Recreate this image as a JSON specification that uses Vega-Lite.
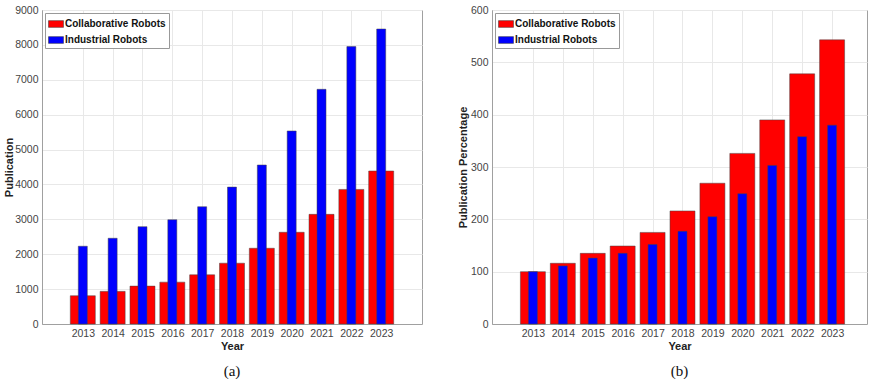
{
  "$schema": "https://vega.github.io/schema/vega-lite/v6.json",
  "padding": {"left": 2, "top": 4, "right": 0, "bottom": 0},
  "background": "white",
  "datasets": {
    "pub": [
      {"year": 2013, "series": "Collaborative Robots", "value": 810},
      {"year": 2014, "series": "Collaborative Robots", "value": 935},
      {"year": 2015, "series": "Collaborative Robots", "value": 1086},
      {"year": 2016, "series": "Collaborative Robots", "value": 1200},
      {"year": 2017, "series": "Collaborative Robots", "value": 1410},
      {"year": 2018, "series": "Collaborative Robots", "value": 1743},
      {"year": 2019, "series": "Collaborative Robots", "value": 2171},
      {"year": 2020, "series": "Collaborative Robots", "value": 2629},
      {"year": 2021, "series": "Collaborative Robots", "value": 3143},
      {"year": 2022, "series": "Collaborative Robots", "value": 3857},
      {"year": 2023, "series": "Collaborative Robots", "value": 4385},
      {"year": 2013, "series": "Industrial Robots", "value": 2229},
      {"year": 2014, "series": "Industrial Robots", "value": 2457},
      {"year": 2015, "series": "Industrial Robots", "value": 2790},
      {"year": 2016, "series": "Industrial Robots", "value": 2990},
      {"year": 2017, "series": "Industrial Robots", "value": 3362},
      {"year": 2018, "series": "Industrial Robots", "value": 3924},
      {"year": 2019, "series": "Industrial Robots", "value": 4557},
      {"year": 2020, "series": "Industrial Robots", "value": 5532},
      {"year": 2021, "series": "Industrial Robots", "value": 6727},
      {"year": 2022, "series": "Industrial Robots", "value": 7951},
      {"year": 2023, "series": "Industrial Robots", "value": 8455}
    ],
    "pct": [
      {"year": 2013, "series": "Collaborative Robots", "value": 100},
      {"year": 2014, "series": "Collaborative Robots", "value": 116},
      {"year": 2015, "series": "Collaborative Robots", "value": 135},
      {"year": 2016, "series": "Collaborative Robots", "value": 149},
      {"year": 2017, "series": "Collaborative Robots", "value": 175},
      {"year": 2018, "series": "Collaborative Robots", "value": 216},
      {"year": 2019, "series": "Collaborative Robots", "value": 269},
      {"year": 2020, "series": "Collaborative Robots", "value": 326},
      {"year": 2021, "series": "Collaborative Robots", "value": 390},
      {"year": 2022, "series": "Collaborative Robots", "value": 478},
      {"year": 2023, "series": "Collaborative Robots", "value": 543},
      {"year": 2013, "series": "Industrial Robots", "value": 100},
      {"year": 2014, "series": "Industrial Robots", "value": 111},
      {"year": 2015, "series": "Industrial Robots", "value": 126},
      {"year": 2016, "series": "Industrial Robots", "value": 135},
      {"year": 2017, "series": "Industrial Robots", "value": 152},
      {"year": 2018, "series": "Industrial Robots", "value": 177},
      {"year": 2019, "series": "Industrial Robots", "value": 205},
      {"year": 2020, "series": "Industrial Robots", "value": 249},
      {"year": 2021, "series": "Industrial Robots", "value": 303},
      {"year": 2022, "series": "Industrial Robots", "value": 358},
      {"year": 2023, "series": "Industrial Robots", "value": 380}
    ]
  },
  "config": {
    "font": "Liberation Sans",
    "view": {"stroke": "#a0a0a0", "strokeWidth": 1},
    "axis": {
      "labelFont": "Liberation Sans",
      "labelFontSize": 10.5,
      "labelColor": "#444444",
      "titleFont": "Liberation Sans",
      "titleFontSize": 11,
      "titleFontWeight": "bold",
      "titleColor": "#222222",
      "domainColor": "#a0a0a0",
      "gridColor": "#e8e8e8",
      "ticks": false,
      "labelPadding": 4,
      "format": "d"
    },
    "legend": {
      "orient": "top-left",
      "offset": 3,
      "strokeColor": "#999999",
      "fillColor": "white",
      "padding": 3,
      "labelFont": "Liberation Sans",
      "labelFontSize": 10,
      "labelFontWeight": "bold",
      "labelColor": "#111111",
      "labelOffset": 1,
      "rowPadding": 3,
      "symbolType": "M-1,-0.45H1V0.45H-1Z",
      "symbolSize": 225,
      "symbolStrokeColor": "#333333",
      "symbolStrokeWidth": 0.5,
      "title": null
    },
    "title": {"orient": "bottom", "font": "Liberation Serif", "fontSize": 15, "fontWeight": "normal", "color": "#111111", "offset": 12}
  },
  "spacing": 33,
  "resolve": {"scale": {"color": "independent"}, "legend": {"color": "independent"}},
  "hconcat": [
    {
      "width": 380,
      "height": 314,
      "title": "(a)",
      "data": {"name": "pub"},
      "encoding": {
        "x": {"field": "year", "type": "quantitative", "scale": {"domain": [2011.8, 2024.2], "nice": false, "zero": false},
              "axis": {"values": [2013, 2014, 2015, 2016, 2017, 2018, 2019, 2020, 2021, 2022, 2023], "format": "d", "title": "Year", "titlePadding": 2}},
        "y": {"field": "value", "type": "quantitative", "scale": {"domain": [0, 9000], "nice": false},
              "axis": {"values": [0, 1000, 2000, 3000, 4000, 5000, 6000, 7000, 8000, 9000], "format": "d", "title": "Publication", "titleX": -28}},
        "color": {"field": "series", "type": "nominal",
                  "scale": {"domain": ["Collaborative Robots", "Industrial Robots"], "range": ["#ff0000", "#0000ff"]}}
      },
      "layer": [
        {"transform": [{"filter": "datum.series === 'Collaborative Robots'"}],
         "mark": {"type": "bar", "size": 25, "stroke": "#444444", "strokeWidth": 0.5}},
        {"transform": [{"filter": "datum.series === 'Industrial Robots'"}],
         "mark": {"type": "bar", "size": 9, "stroke": "#444444", "strokeWidth": 0.5}}
      ]
    },
    {
      "width": 375,
      "height": 314,
      "title": "(b)",
      "data": {"name": "pct"},
      "encoding": {
        "x": {"field": "year", "type": "quantitative", "scale": {"domain": [2011.8, 2024.0], "nice": false, "zero": false},
              "axis": {"values": [2013, 2014, 2015, 2016, 2017, 2018, 2019, 2020, 2021, 2022, 2023], "format": "d", "title": "Year", "titlePadding": 2}},
        "y": {"field": "value", "type": "quantitative", "scale": {"domain": [0, 600], "nice": false},
              "axis": {"values": [0, 100, 200, 300, 400, 500, 600], "format": "d", "title": "Publication Percentage", "titleX": -24}},
        "color": {"field": "series", "type": "nominal",
                  "scale": {"domain": ["Collaborative Robots", "Industrial Robots"], "range": ["#ff0000", "#0000ff"]}}
      },
      "layer": [
        {"transform": [{"filter": "datum.series === 'Collaborative Robots'"}],
         "mark": {"type": "bar", "size": 25, "stroke": "#444444", "strokeWidth": 0.5}},
        {"transform": [{"filter": "datum.series === 'Industrial Robots'"}],
         "mark": {"type": "bar", "size": 9, "stroke": "#444444", "strokeWidth": 0.5}}
      ]
    }
  ]
}
